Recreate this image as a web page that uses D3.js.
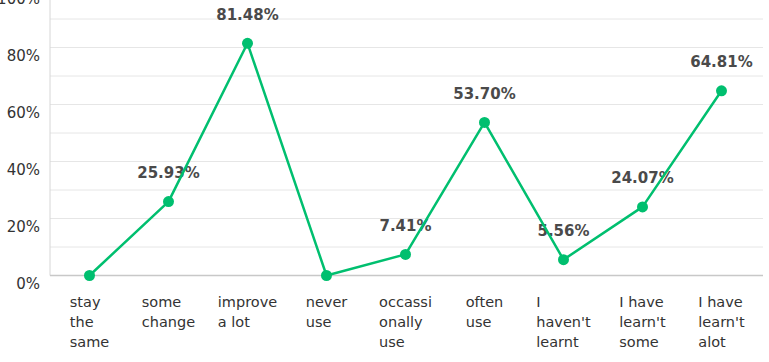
<!DOCTYPE html>
<html><head><meta charset="utf-8">
<script src="https://cdn.jsdelivr.net/npm/d3@7"></script>
<style>body{margin:0;background:#fff;}svg{display:block;}</style>
</head><body>
<svg id="chart" width="769" height="362"></svg>
<script>
const categories = [
  ["stay","the","same"],
  ["some","change"],
  ["improve","a lot"],
  ["never","use"],
  ["occassi","onally","use"],
  ["often","use"],
  ["I","haven't","learnt"],
  ["I have","learn't","some"],
  ["I have","learn't","alot"]
];
const values = [0, 25.93, 81.48, 0, 7.41, 53.70, 5.56, 24.07, 64.81];
const valueLabels = ["", "25.93%", "81.48%", "", "7.41%", "53.70%", "5.56%", "24.07%", "64.81%"];
const yTicks = [0, 20, 40, 60, 80, 100];
const gridTicks = [0,10,20,30,40,50,60,70,80,90,100];

(function(){
const svg = d3.select("#chart");
const mLeft = 50, mRight = 761, mTop = -9.5, mBottom = 275.5;
const green = "#00bf6f";
const font = "'DejaVu Sans', sans-serif";

const x = d3.scalePoint().domain(d3.range(categories.length)).range([mLeft, mRight]).padding(0.5);
const y = d3.scaleLinear().domain([0, 100]).range([mBottom, mTop]);

// gridlines
svg.append("g").selectAll("line").data(gridTicks.filter(d => d > 0)).join("line")
  .attr("x1", mLeft).attr("x2", 763)
  .attr("y1", d => y(d)).attr("y2", d => y(d))
  .attr("stroke", "#e6e6e6").attr("stroke-width", 1);

// y axis line
svg.append("line").attr("x1", mLeft).attr("x2", mLeft).attr("y1", 0).attr("y2", mBottom)
  .attr("stroke", "#d6d6d6").attr("stroke-width", 1);
// x axis line
svg.append("line").attr("x1", mLeft).attr("x2", 763).attr("y1", mBottom).attr("y2", mBottom)
  .attr("stroke", "#c8c8c8").attr("stroke-width", 1.5);

// y tick labels
svg.append("g").selectAll("text").data(yTicks).join("text")
  .attr("x", 40).attr("y", d => y(d) + 8).attr("dy", "0.35em")
  .attr("text-anchor", "end")
  .attr("font-family", font).attr("font-size", 15).attr("fill", "#333")
  .text(d => d + "%");

// x labels
const xg = svg.append("g");
categories.forEach((lines, i) => {
  const t = xg.append("text").attr("font-family", font).attr("font-size", 14.5).attr("fill", "#333");
  lines.forEach((ln, j) => {
    t.append("tspan").attr("y", 307 + j * 20).text(ln);
  });
  let maxW = 0;
  t.selectAll("tspan").each(function(){ maxW = Math.max(maxW, this.getComputedTextLength()); });
  t.selectAll("tspan").attr("x", x(i) - maxW / 2);
});

// value labels (drawn beneath the line)
svg.append("g").selectAll("text").data(values).join("text")
  .attr("x", (d, i) => x(i)).attr("y", d => y(d) - 29).attr("dy", "0.35em")
  .attr("text-anchor", "middle")
  .attr("font-family", font).attr("font-size", 15).attr("font-weight", "bold").attr("fill", "#4a4a4a")
  .text((d, i) => valueLabels[i]);

// line
const line = d3.line().x((d, i) => x(i)).y(d => y(d));
svg.append("path").datum(values).attr("d", line)
  .attr("fill", "none").attr("stroke", green).attr("stroke-width", 2.5)
  .attr("stroke-linejoin", "round");

// points
svg.append("g").selectAll("circle").data(values).join("circle")
  .attr("cx", (d, i) => x(i)).attr("cy", d => y(d)).attr("r", 5.5)
  .attr("fill", green);
})();
</script>
</body></html>
